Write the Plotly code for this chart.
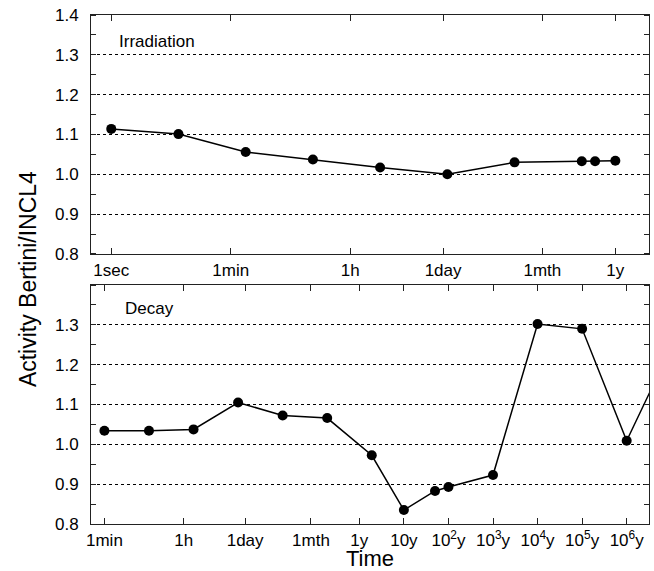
import plotly.graph_objects as go

# Time units in seconds
SEC = 1.0
MIN = 60.0
HOUR = 3600.0
DAY = 86400.0
MONTH = 30 * DAY
YEAR = 365.25 * DAY

# Irradiation phase: ratio of activities vs irradiation time
irr_time = [1 * SEC, 10 * SEC, 100 * SEC, 1e3 * SEC, 1e4 * SEC, 1e5 * SEC,
            1e6 * SEC, 1e7 * SEC, 0.5 * YEAR, 1 * YEAR]
irr_ratio = [1.114, 1.101, 1.056, 1.037, 1.017, 1.000, 1.030, 1.033, 1.033, 1.034]

# Decay phase: ratio of activities vs cooling time
dec_time = [1 * MIN, 10 * MIN, 100 * MIN, 1e3 * MIN, 1e4 * MIN, 1e5 * MIN, 1e6 * MIN,
            10 * YEAR, 50 * YEAR, 1e2 * YEAR, 1e3 * YEAR, 1e4 * YEAR, 1e5 * YEAR,
            1e6 * YEAR, 1e7 * YEAR]
dec_ratio = [1.034, 1.034, 1.0375, 1.105, 1.0725, 1.066, 0.9725, 0.835, 0.883,
             0.893, 0.923, 1.302, 1.290, 1.009, 1.244]

# Tick positions and labels
irr_tickvals = [1 * SEC, MIN, HOUR, DAY, MONTH, YEAR]
irr_ticktext = ["1sec", "1min", "1h", "1day", "1mth", "1y"]
dec_tickvals = [MIN, HOUR, DAY, MONTH, YEAR, 10 * YEAR, 1e2 * YEAR, 1e3 * YEAR,
                1e4 * YEAR, 1e5 * YEAR, 1e6 * YEAR]
dec_ticktext = ["1min", "1h", "1day", "1mth", "1y", "10y", "10<sup>2</sup>y",
                "10<sup>3</sup>y", "10<sup>4</sup>y", "10<sup>5</sup>y", "10<sup>6</sup>y"]
irr_yticks = [0.8, 0.9, 1.0, 1.1, 1.2, 1.3, 1.4]
dec_yticks = [0.8, 0.9, 1.0, 1.1, 1.2, 1.3]

FONT = "Liberation Sans, Arial, sans-serif"
LINE = "#222222"

fig = go.Figure()
fig.add_trace(go.Scatter(
    x=irr_time, y=irr_ratio, mode="lines+markers", xaxis="x", yaxis="y",
    line=dict(color="black", width=1.5),
    marker=dict(color="black", size=10), showlegend=False))
fig.add_trace(go.Scatter(
    x=dec_time, y=dec_ratio, mode="lines+markers", xaxis="x2", yaxis="y2",
    line=dict(color="black", width=1.5),
    marker=dict(color="black", size=10), showlegend=False))

common_x = dict(type="log", showline=True, linecolor=LINE, linewidth=1, mirror="ticks",
                ticks="inside", ticklen=6, tickcolor=LINE, showgrid=False, zeroline=False,
                tickfont=dict(family=FONT, size=17, color="black"),
                ticklabelstandoff=1)
common_y = dict(range=[0.8, 1.4], showline=True, linecolor=LINE, linewidth=1, mirror="ticks",
                ticks="", showgrid=True, gridcolor="black", gridwidth=1, griddash="dot",
                zeroline=False, tickformat=".1f", tickmode="array",
                tickfont=dict(family=FONT, size=17, color="black"),
                ticklabelstandoff=8,
                minor=dict(tickmode="linear", tick0=0.8, dtick=0.05, ticks="inside",
                           ticklen=5, tickcolor=LINE, showgrid=False))

fig.update_layout(
    width=654, height=571,
    margin=dict(l=91, r=5, t=15, b=47),
    paper_bgcolor="white", plot_bgcolor="white",
    font=dict(family=FONT, color="black"),
    xaxis=dict(common_x, domain=[0, 1], anchor="y",
               range=[-0.30103, 8.0], tickvals=irr_tickvals, ticktext=irr_ticktext),
    yaxis=dict(common_y, domain=[0.5305, 1.0], anchor="x", tickvals=irr_yticks),
    xaxis2=dict(common_x, domain=[0, 1], anchor="y2",
                range=[1.4771, 14.0], tickvals=dec_tickvals, ticktext=dec_ticktext),
    yaxis2=dict(common_y, domain=[0, 0.4695], anchor="x2", tickvals=dec_yticks),
    annotations=[
        dict(text="Irradiation", xref="x domain", yref="y domain", x=0.047, y=0.89,
             xanchor="left", yanchor="middle", showarrow=False,
             font=dict(family=FONT, size=17)),
        dict(text="Decay", xref="x2 domain", yref="y2 domain", x=0.057, y=0.9,
             xanchor="left", yanchor="middle", showarrow=False,
             font=dict(family=FONT, size=17)),
        dict(text="Time", xref="paper", yref="paper", x=0.5, y=-0.067,
             xanchor="center", yanchor="middle", showarrow=False,
             font=dict(family=FONT, size=22)),
        dict(text="Activity Bertini/INCL4", xref="paper", yref="paper", x=-0.113, y=0.481,
             xanchor="center", yanchor="middle", textangle=-90, showarrow=False,
             font=dict(family=FONT, size=23)),
    ],
)

fig.write_html("out.html")
